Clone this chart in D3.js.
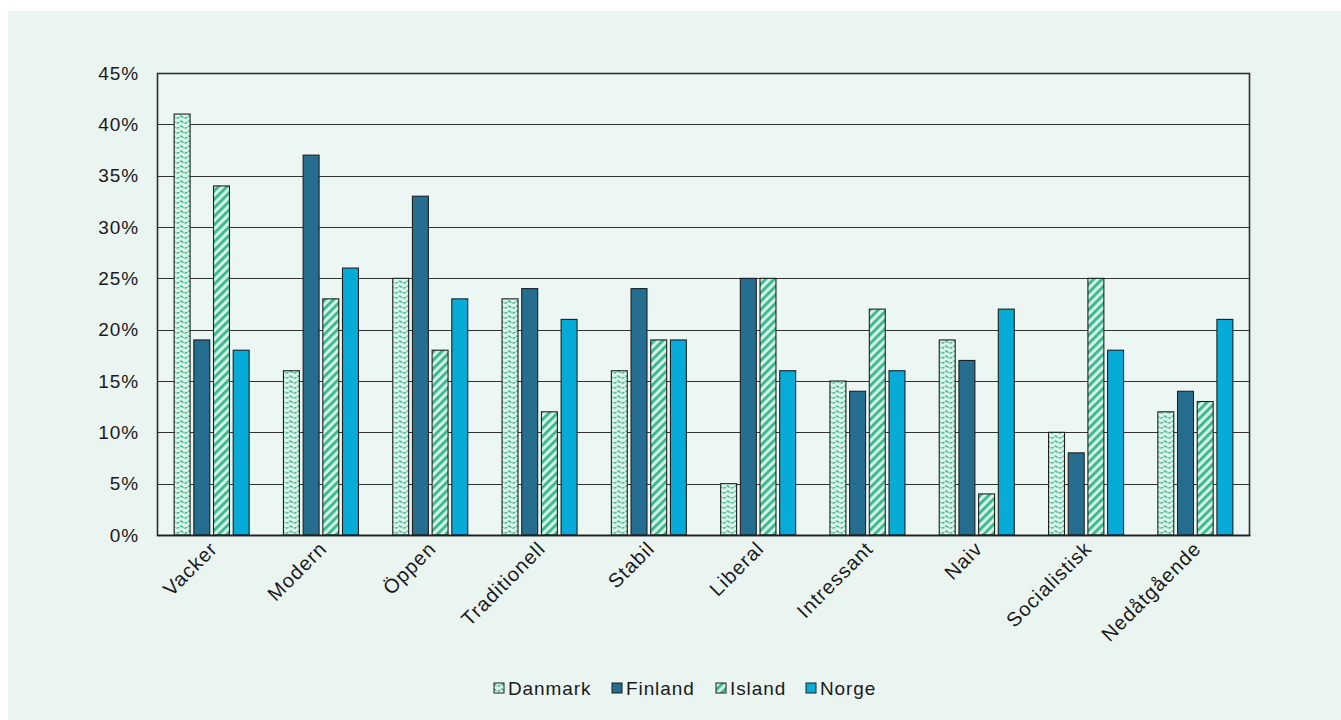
<!DOCTYPE html>
<html>
<head>
<meta charset="utf-8">
<script src="https://cdn.jsdelivr.net/npm/d3@7"></script>
<style>
  html, body { margin: 0; padding: 0; background: #ffffff; }
  svg { display: block; }
  text { font-family: "Liberation Sans", Arial, sans-serif; fill: #1a1a1a; }
</style>
</head>
<body>
<svg id="chart" width="1341" height="720"></svg>
<script>
// Share of respondents choosing each word, per country
const categories = ["Vacker", "Modern", "Öppen", "Traditionell", "Stabil", "Liberal", "Intressant", "Naiv", "Socialistisk", "Nedåtgående"];
const series = ["Danmark", "Finland", "Island", "Norge"];
const danmark = [41, 16, 25, 23, 16, 5, 15, 19, 10, 12];
const finland = [19, 37, 33, 24, 24, 25, 14, 17, 8, 14];
const island  = [34, 23, 18, 12, 19, 25, 22, 4, 25, 13];
const norge   = [18, 26, 23, 21, 19, 16, 16, 22, 18, 21];
const yTicks  = [0, 5, 10, 15, 20, 25, 30, 35, 40, 45];

const valuesBySeries = { Danmark: danmark, Finland: finland, Island: island, Norge: norge };

const svg = d3.select("#chart");
const W = 1341, H = 720;
const plot = { left: 157, right: 1250, top: 73, bottom: 535 };
const FONT = 19, SPACING = 0.9;

// page background panel
svg.append("rect").attr("x", 0).attr("y", 0).attr("width", W).attr("height", H).attr("fill", "#ffffff");
svg.append("rect").attr("x", 8).attr("y", 11).attr("width", W - 8).attr("height", H - 11).attr("fill", "#eaf4f0");

// fill patterns
const defs = svg.append("defs");
const wave = defs.append("pattern").attr("id", "pat-wave")
  .attr("patternUnits", "userSpaceOnUse").attr("width", 8).attr("height", 5);
wave.append("rect").attr("width", 8).attr("height", 5).attr("fill", "#dcf3ea");
wave.append("path").attr("d", "M0,0.8 Q4,5.2 8,0.8").attr("fill", "none")
  .attr("stroke", "#35b48c").attr("stroke-width", 1.4).attr("stroke-dasharray", "3,1.2");

const stripe = defs.append("pattern").attr("id", "pat-stripe")
  .attr("patternUnits", "userSpaceOnUse").attr("width", 6).attr("height", 6)
  .attr("patternTransform", "rotate(45)");
stripe.append("rect").attr("width", 6).attr("height", 6).attr("fill", "#d5f1e6");
stripe.append("rect").attr("x", 0).attr("width", 2.8).attr("height", 6).attr("fill", "#35b88f");

const fills = { Danmark: "url(#pat-wave)", Finland: "#266e8f", Island: "url(#pat-stripe)", Norge: "#06acd7" };

// scales
const x = d3.scaleBand().domain(categories).range([plot.left, plot.right]).paddingInner(0).paddingOuter(0);
const groupW = 75;
const xSub = d3.scaleBand().domain(series)
  .range([(x.bandwidth() - groupW) / 2, (x.bandwidth() + groupW) / 2])
  .paddingInner(0.19).paddingOuter(0);
const y = d3.scaleLinear().domain([0, 45]).range([plot.bottom, plot.top]);

// plot area
svg.append("rect").attr("x", plot.left).attr("y", plot.top)
  .attr("width", plot.right - plot.left).attr("height", plot.bottom - plot.top)
  .attr("fill", "#ecf6f2");

// horizontal gridlines
svg.append("g").selectAll("line").data(yTicks).join("line")
  .attr("x1", plot.left).attr("x2", plot.right)
  .attr("y1", d => Math.round(y(d)) + 0.5).attr("y2", d => Math.round(y(d)) + 0.5)
  .attr("stroke", "#333333").attr("stroke-width", 1.2);

// bars
const groups = svg.append("g").selectAll("g").data(categories).join("g")
  .attr("transform", d => `translate(${x(d)},0)`);
groups.selectAll("rect")
  .data((c, i) => series.map(s => ({ s, v: valuesBySeries[s][i] })))
  .join("rect")
  .attr("x", d => xSub(d.s))
  .attr("y", d => y(d.v))
  .attr("width", xSub.bandwidth())
  .attr("height", d => y(0) - y(d.v))
  .attr("fill", d => fills[d.s])
  .attr("stroke", "#1f1f1f").attr("stroke-width", 1.1);

// frame
svg.append("rect").attr("x", plot.left + 0.5).attr("y", plot.top + 0.5)
  .attr("width", plot.right - plot.left - 1).attr("height", plot.bottom - plot.top)
  .attr("fill", "none").attr("stroke", "#2e2e2e").attr("stroke-width", 1.6);

// y axis
const yAxis = d3.axisLeft(y).tickValues(yTicks).tickFormat(d => d + "%").tickSize(0).tickPadding(18);
const gy = svg.append("g").attr("transform", `translate(${plot.left},0)`).call(yAxis);
gy.select(".domain").remove();
gy.selectAll("text").attr("font-size", FONT).attr("letter-spacing", SPACING)
  .style("font-family", "'Liberation Sans', Arial, sans-serif").attr("fill", "#1a1a1a");

// x axis with rotated category labels
const xAxis = d3.axisBottom(x).tickSize(0).tickPadding(0);
const gx = svg.append("g").attr("transform", `translate(0,${plot.bottom})`).call(xAxis);
gx.select(".domain").attr("stroke", "#1f1f1f").attr("stroke-width", 1.6);
gx.selectAll("text")
  .attr("font-size", 20).attr("letter-spacing", 1)
  .style("font-family", "'Liberation Sans', Arial, sans-serif").attr("fill", "#1a1a1a")
  .attr("text-anchor", "end")
  .attr("dy", 0)
  .attr("transform", "translate(7,15) rotate(-45)");

// legend
const legend = svg.append("g").attr("transform", "translate(494,688)");
const legendOffsets = [0, 118, 222, 312];
const items = legend.selectAll("g").data(series).join("g")
  .attr("transform", (d, i) => `translate(${legendOffsets[i]},0)`);
items.append("rect").attr("x", 0).attr("y", -5).attr("width", 10).attr("height", 10)
  .attr("fill", d => fills[d]).attr("stroke", "#1f1f1f").attr("stroke-width", 1);
items.append("text").attr("x", 14).attr("y", 0).attr("dy", "0.35em")
  .attr("font-size", FONT).attr("letter-spacing", SPACING).text(d => d);
</script>
</body>
</html>
